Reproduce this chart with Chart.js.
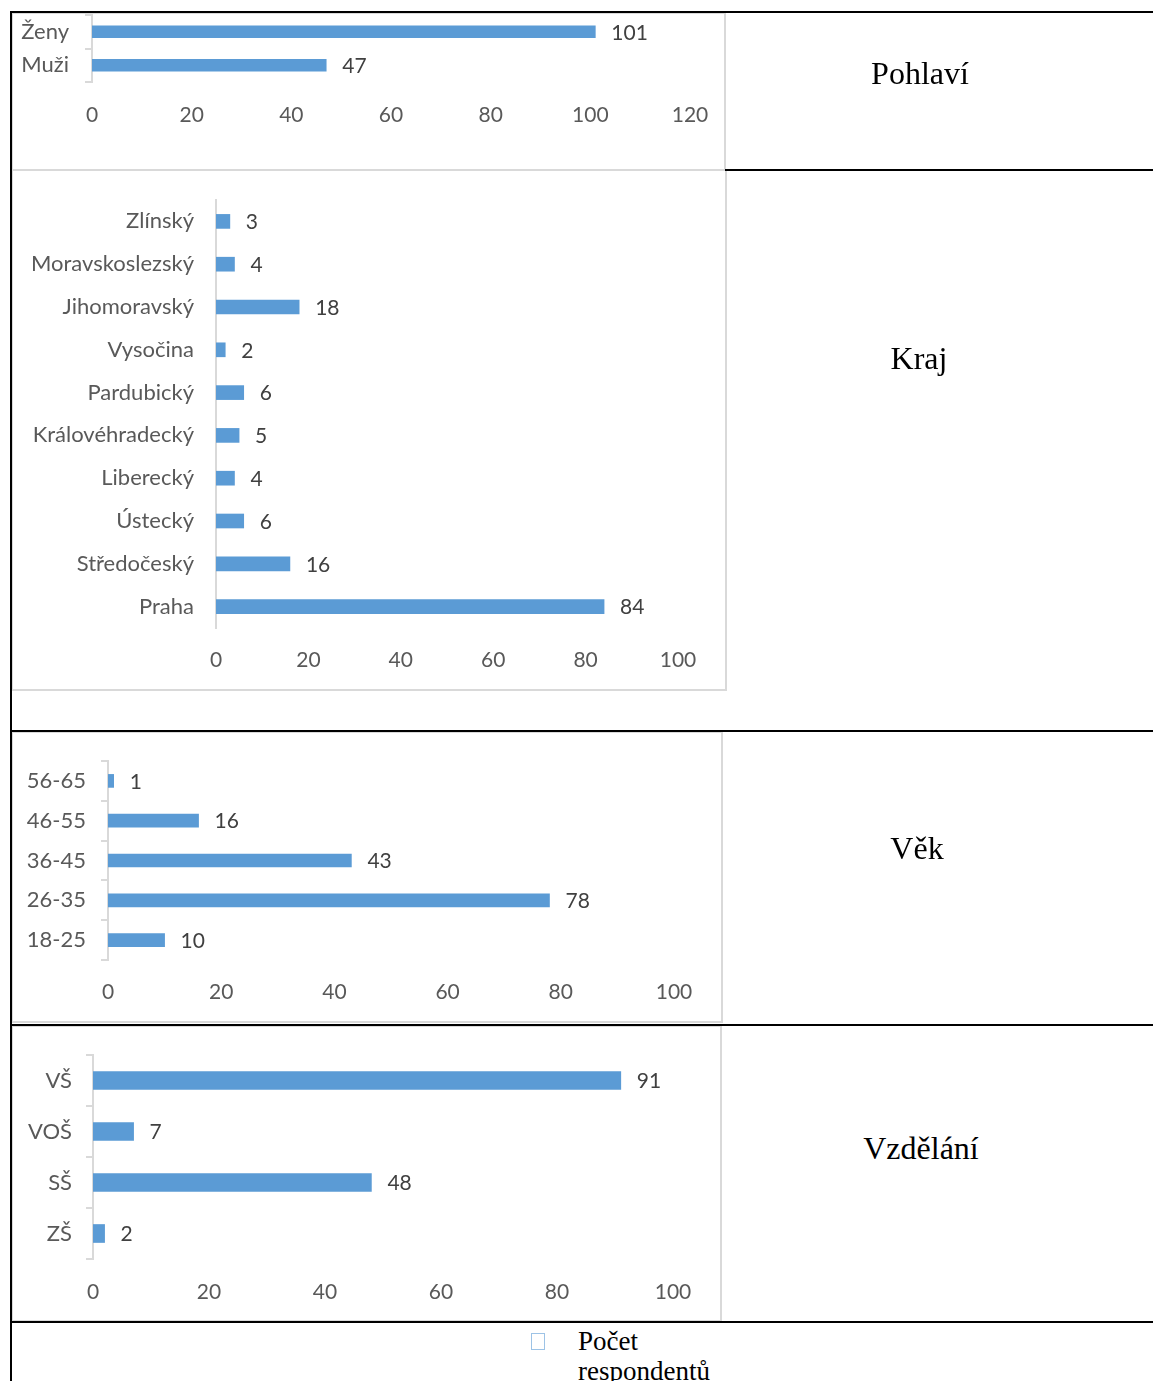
<!DOCTYPE html>
<html>
<head>
<meta charset="utf-8">
<script src="https://cdn.jsdelivr.net/npm/chart.js@4.4.0/dist/chart.umd.min.js"></script>
<style>
  body { margin: 0; background: #fff; width: 1153px; height: 1381px; overflow: hidden; position: relative; }
  .box { position: absolute; box-sizing: border-box; border: 2px solid #d9d9d9; background: #fff; }
  .box canvas { position: absolute; left: 0; top: 0; }
  .rule { position: absolute; background: #000; }
  .cell { position: absolute; font-family: 'Liberation Serif', 'Times New Roman', serif; color: #000; }
  .name { left: 720px; width: 400px; text-align: center; font-size: 32px; line-height: 32px; }
</style>
</head>
<body>
<div id="charts"></div>

<div class="rule" style="left:10px; top:11px; width:2px; height:1370px;"></div>
<div class="rule" style="left:10px; top:11px; width:1143px; height:2px;"></div>
<div class="rule" style="left:725px; top:169px; width:428px; height:2px;"></div>
<div class="rule" style="left:10px; top:730px; width:1143px; height:2px;"></div>
<div class="rule" style="left:10px; top:1024px; width:1143px; height:2px;"></div>
<div class="rule" style="left:10px; top:1321px; width:1143px; height:2px;"></div>

<div class="cell name" style="top:57px;">Pohlaví</div>
<div class="cell name" style="top:342px; left:719px;">Kraj</div>
<div class="cell name" style="top:832px; left:717px;">Věk</div>
<div class="cell name" style="top:1132px; left:721px;">Vzdělání</div>

<div style="position:absolute; left:531px; top:1333px; width:12px; height:15px; border:1px solid #9dc3e6;"></div>
<div class="cell" style="left:578px; top:1326px; font-size:27px; line-height:30px;">Počet<br>respondentů</div>

<script>
const genderLabels = ['Ženy', 'Muži'];
const genderValues = [101, 47];
const genderTicks = [0, 20, 40, 60, 80, 100, 120];

const regionLabels = ['Zlínský', 'Moravskoslezský', 'Jihomoravský', 'Vysočina', 'Pardubický',
  'Královéhradecký', 'Liberecký', 'Ústecký', 'Středočeský', 'Praha'];
const regionValues = [3, 4, 18, 2, 6, 5, 4, 6, 16, 84];
const regionTicks = [0, 20, 40, 60, 80, 100];

const ageLabels = ['56-65', '46-55', '36-45', '26-35', '18-25'];
const ageValues = [1, 16, 43, 78, 10];
const ageTicks = [0, 20, 40, 60, 80, 100];

const eduLabels = ['VŠ', 'VOŠ', 'SŠ', 'ZŠ'];
const eduValues = [91, 7, 48, 2];
const eduTicks = [0, 20, 40, 60, 80, 100];

const FONT = 'Lato';
const BLUE = '#5b9bd5';
const GREY = '#d9d9d9';

// numbers printed at the end of each bar
const valueLabels = {
  id: 'valueLabels',
  afterDatasetsDraw(chart) {
    const ctx = chart.ctx;
    const meta = chart.getDatasetMeta(0);
    ctx.save();
    ctx.font = '21px ' + FONT;
    ctx.fillStyle = '#404040';
    ctx.textBaseline = 'middle';
    ctx.textAlign = 'left';
    meta.data.forEach((bar, i) => {
      ctx.fillText(chart.data.datasets[0].data[i], bar.x + 16, bar.y + 1);
    });
    ctx.restore();
  }
};

function makeChart(labels, values, ticks, o) {
  const [l, t, w, h] = o.box;
  const box = document.createElement('div');
  box.className = 'box';
  box.style.left = l + 'px';
  box.style.top = t + 'px';
  box.style.width = w + 'px';
  box.style.height = h + 'px';
  const canvas = document.createElement('canvas');
  const W = w - 4, H = h - 4;
  canvas.width = W;
  canvas.height = H;
  canvas.style.width = W + 'px';
  canvas.style.height = H + 'px';
  box.appendChild(canvas);
  document.getElementById('charts').appendChild(box);

  const ox = l + 2, oy = t + 2;
  const areaL = o.x0 - ox, areaR = o.x1 - ox;
  const areaT = o.top - oy, areaB = o.bottom - oy;
  const axisH = Math.min(60, H - areaB);

  return new Chart(canvas, {
    type: 'bar',
    data: {
      labels: labels,
      datasets: [{
        data: values,
        backgroundColor: BLUE,
        barThickness: o.bar,
      }],
    },
    options: {
      indexAxis: 'y',
      responsive: false,
      animation: false,
      layout: {
        padding: { left: 0, top: areaT, right: W - areaR, bottom: H - areaB - axisH },
      },
      plugins: {
        legend: { display: false },
        tooltip: { enabled: false },
      },
      scales: {
        x: {
          min: ticks[0],
          max: ticks[ticks.length - 1],
          ticks: {
            stepSize: ticks[1] - ticks[0],
            color: '#595959',
            font: { family: FONT, size: 21 },
            padding: (o.tickY - oy) - areaB - 19,
          },
          grid: { display: false },
          border: { display: false },
          afterFit: (s) => {
            s.height = axisH;
            s.paddingLeft = 0;
            s.paddingRight = 0;
          },
        },
        y: {
          ticks: {
            color: '#595959',
            font: { family: FONT, size: 22 },
            padding: o.x0 - o.tickLen - o.labelRight - 1,
            autoSkip: false,
          },
          grid: {
            display: o.tickLen > 0,
            drawOnChartArea: false,
            drawTicks: o.tickLen > 0,
            tickLength: o.tickLen,
            color: GREY,
            lineWidth: 2,
          },
          border: { display: true, color: GREY, width: 2 },
          afterFit: (s) => {
            s.width = areaL;
            s.paddingTop = 0;
            s.paddingBottom = 0;
          },
        },
      },
    },
    plugins: [valueLabels],
  });
}

makeChart(genderLabels, genderValues, genderTicks,
  { box: [11, 12, 715, 159], x0: 92, x1: 690, top: 15, bottom: 82, tickY: 114, labelRight: 68, tickLen: 7, bar: 12 });
makeChart(regionLabels, regionValues, regionTicks,
  { box: [11, 169, 716, 522], x0: 216, x1: 678, top: 200, bottom: 628, tickY: 659, labelRight: 193, tickLen: 0, bar: 14 });
makeChart(ageLabels, ageValues, ageTicks,
  { box: [11, 731, 712, 292], x0: 108, x1: 674, top: 761, bottom: 960, tickY: 991, labelRight: 85, tickLen: 7, bar: 13 });
makeChart(eduLabels, eduValues, eduTicks,
  { box: [11, 1025, 711, 297], x0: 93, x1: 673, top: 1055, bottom: 1259, tickY: 1291, labelRight: 71, tickLen: 7, bar: 18 });
</script>
</body>
</html>
